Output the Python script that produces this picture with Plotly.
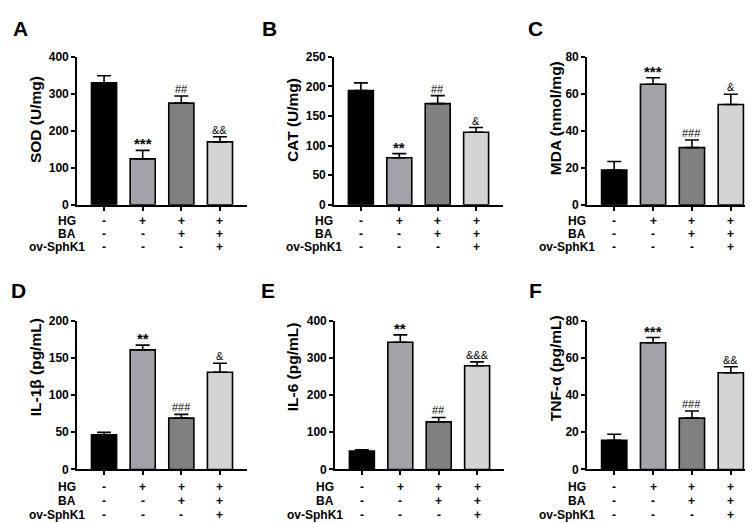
import plotly.graph_objects as go

W, H = 753, 523

groups = ["Control", "HG", "HG+BA", "HG+BA+ov-SphK1"]
row_names = ["HG", "BA", "ov-SphK1"]
row_signs = [["-", "+", "+", "+"],
             ["-", "-", "+", "+"],
             ["-", "-", "-", "+"]]
bar_colors = ["#000000", "#a2a2aa", "#808080", "#d4d4d4"]

sod = [330, 124, 275, 170]
sod_err = [19, 23, 19, 14]
sod_sig = ["", "***", "##", "&&"]

cat = [193, 79.5, 171, 122.5]
cat_err = [13, 7, 13.5, 8]
cat_sig = ["", "**", "##", "&"]

mda = [18.8, 65.2, 30.9, 54.2]
mda_err = [4.6, 3.5, 4.1, 5.6]
mda_sig = ["", "***", "###", "&"]

il1b = [46.7, 160.7, 69, 130.6]
il1b_err = [3.1, 6.3, 5, 12.2]
il1b_sig = ["", "**", "###", "&"]

il6 = [49.8, 342, 128, 278.6]
il6_err = [3.2, 19.6, 11.7, 10.4]
il6_sig = ["", "**", "##", "&&&"]

tnf = [15.7, 68.1, 27.6, 52]
tnf_err = [3.2, 2.8, 3.8, 3.2]
tnf_sig = ["", "***", "###", "&&"]

panels = [
    dict(letter="A", vals=sod, err=sod_err, sig=sod_sig, ymax=400, dtick=100,
         title="SOD (U/mg)", l=69, r=239, t=43, b=195, tx=27, ty=108, lx=12, ly=14,
         rows_y=[212, 225, 238]),
    dict(letter="B", vals=cat, err=cat_err, sig=cat_sig, ymax=250, dtick=50,
         title="CAT (U/mg)", l=326, r=495, t=43, b=195, tx=284, ty=108, lx=261, ly=14,
         rows_y=[212, 225, 238]),
    dict(letter="C", vals=mda, err=mda_err, sig=mda_sig, ymax=80, dtick=20,
         title="MDA (nmol/mg)", l=579, r=750, t=43, b=195, tx=547, ty=106, lx=527, ly=14,
         rows_y=[212, 225, 238]),
    dict(letter="D", vals=il1b, err=il1b_err, sig=il1b_sig, ymax=200, dtick=50,
         title="IL-1β (pg/mL)", l=69, r=239, t=314, b=467, tx=27, ty=362, lx=10, ly=283,
         rows_y=[485, 499, 514]),
    dict(letter="E", vals=il6, err=il6_err, sig=il6_sig, ymax=400, dtick=100,
         title="IL-6 (pg/mL)", l=327, r=496, t=314, b=467, tx=284, ty=362, lx=260, ly=283,
         rows_y=[485, 499, 514]),
    dict(letter="F", vals=tnf, err=tnf_err, sig=tnf_sig, ymax=80, dtick=20,
         title="TNF-α (pg/mL)", l=579, r=750, t=314, b=467, tx=547, ty=363, lx=527, ly=283,
         rows_y=[485, 499, 514]),
]

FONT = "Liberation Sans, Arial, sans-serif"
fig = go.Figure()
annotations = []
layout = {}

for i, p in enumerate(panels):
    n = "" if i == 0 else str(i + 1)
    xa, ya = "x" + n, "y" + n
    fig.add_trace(go.Bar(
        x=[0, 1, 2, 3], y=p["vals"], xaxis=xa, yaxis=ya, width=0.65,
        marker=dict(color=bar_colors, line=dict(color="black", width=1.6)),
        error_y=dict(type="data", array=p["err"], arrayminus=[0] * 4, symmetric=False,
                     color="black", thickness=1.6, width=7),
        showlegend=False, hoverinfo="skip"))
    layout["xaxis" + n] = dict(
        domain=[p["l"] / W, p["r"] / W], anchor=ya, range=[-0.7, 3.7],
        showline=True, linecolor="black", linewidth=1.6, ticks="outside",
        ticklen=4, tickwidth=1.6, tickcolor="black", tickvals=[0, 1, 2, 3],
        showticklabels=False, showgrid=False, zeroline=False, fixedrange=True)
    layout["yaxis" + n] = dict(
        domain=[1 - p["b"] / H, 1 - p["t"] / H], anchor=xa, range=[0, p["ymax"]],
        dtick=p["dtick"], showline=True, linecolor="black", linewidth=1.6,
        ticks="outside", ticklen=4, tickwidth=1.6, tickcolor="black",
        tickfont=dict(family=FONT, size=12, color="black", weight="bold"),
        showgrid=False, zeroline=False, fixedrange=True)
    # significance marks
    for j in range(4):
        if p["sig"][j]:
            star = "*" in p["sig"][j]
            annotations.append(dict(
                x=j, y=p["vals"][j] + p["err"][j], xref=xa, yref=ya,
                text=("<b>%s</b>" % p["sig"][j]) if star else p["sig"][j],
                showarrow=False, yanchor="bottom",
                yshift=-4 if star else -1,
                font=dict(family=FONT, size=15 if star else 11, color="black")))
    # y title
    annotations.append(dict(
        x=p["tx"] / W, y=1 - p["ty"] / H, xref="paper", yref="paper",
        text="<b>%s</b>" % p["title"], textangle=-90, showarrow=False,
        xanchor="center", yanchor="middle",
        font=dict(family=FONT, size=15.5, color="black")))
    # panel letter
    annotations.append(dict(
        x=p["lx"] / W, y=1 - p["ly"] / H, xref="paper", yref="paper",
        text="<b>%s</b>" % p["letter"], showarrow=False,
        xanchor="center", yanchor="middle",
        font=dict(family=FONT, size=21, color="black")))
    # condition rows
    for k, name in enumerate(row_names):
        ry = 1 - p["rows_y"][k] / H
        rx = (p["l"] + (10 if name == "ov-SphK1" else 1)) / W
        annotations.append(dict(
            x=rx, y=ry, xref="paper", yref="paper", text="<b>%s</b>" % name,
            showarrow=False, xanchor="right", yanchor="middle",
            font=dict(family=FONT, size=12, color="black")))
        for j in range(4):
            annotations.append(dict(
                x=j, y=ry, xref=xa, yref="paper", text="<b>%s</b>" % row_signs[k][j],
                showarrow=False, xanchor="center", yanchor="middle",
                font=dict(family=FONT, size=12, color="black")))

fig.update_layout(
    width=W, height=H, margin=dict(l=0, r=0, t=0, b=0),
    paper_bgcolor="white", plot_bgcolor="white",
    bargap=0.3, annotations=annotations, **layout)

fig.write_html("out.html")
